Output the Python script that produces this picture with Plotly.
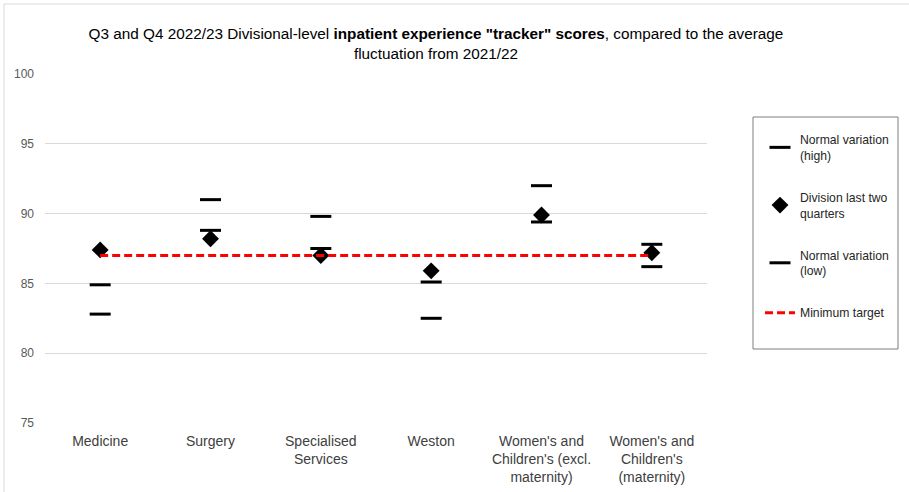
import plotly.graph_objects as go

categories = ["Medicine", "Surgery", "Specialised<br>Services", "Weston",
              "Women's and<br>Children's (excl.<br>maternity)",
              "Women's and<br>Children's<br>(maternity)"]
normal_high = [84.9, 91.0, 89.8, 85.1, 92.0, 87.8]
division_last_two = [87.4, 88.2, 87.0, 85.9, 89.9, 87.2]
normal_low = [82.8, 88.8, 87.5, 82.5, 89.4, 86.2]
minimum_target = [87, 87, 87, 87, 87, 87]

FONT = "Liberation Sans"
W, H = 909, 492
L, R, T, B = 45, 707, 74, 423
PW, PH = R - L, B - T

def px(xp):
    return (xp - L) / PW

def py(yp):
    return (B - yp) / PH

fig = go.Figure()
fig.add_trace(go.Scatter(
    x=categories, y=normal_high, mode="markers", name="Normal variation<br>(high)",
    marker=dict(symbol="line-ew", size=15, color="black", line=dict(width=3, color="black")),
    legendgroup="a"))
fig.add_trace(go.Scatter(
    x=categories, y=division_last_two, mode="markers", name="Division last two<br>quarters",
    marker=dict(symbol="diamond", size=13, color="black"),
    legendgroup="b"))
fig.add_trace(go.Scatter(
    x=categories, y=normal_low, mode="markers", name="Normal variation<br>(low)",
    marker=dict(symbol="line-ew", size=15, color="black", line=dict(width=3, color="black")),
    legendgroup="c"))
fig.add_trace(go.Scatter(
    x=categories, y=minimum_target, mode="lines", name="Minimum target",
    line=dict(color="#ff0000", width=3, dash="8px,4px"),
    legendgroup="d"))

shapes = [
    dict(type="rect", xref="paper", yref="paper",
         x0=px(4), x1=px(930), y0=py(510), y1=py(4),
         line=dict(color="#d9d9d9", width=1), fillcolor="rgba(0,0,0,0)", layer="below"),
    dict(type="rect", xref="paper", yref="paper",
         x0=px(753), x1=px(898), y0=py(349), y1=py(117),
         line=dict(color="#7f7f7f", width=1), fillcolor="rgba(0,0,0,0)"),
]

fig.update_layout(
    width=W, height=H,
    margin=dict(l=L, r=W - R, t=T, b=H - B, pad=0, autoexpand=False),
    paper_bgcolor="white", plot_bgcolor="white",
    font=dict(family=FONT, size=13, color="#404040"),
    title=dict(
        text='Q3 and Q4 2022/23 Divisional-level <b>inpatient experience "tracker" scores</b>, compared to the average<br>fluctuation from 2021/22',
        x=436 / W, xanchor="center", xref="container",
        y=1 - 39 / H, yanchor="middle", yref="container",
        font=dict(family=FONT, size=15.3, color="black")),
    xaxis=dict(showgrid=False, showline=False, zeroline=False, ticks="",
               tickfont=dict(family=FONT, size=14, color="#404040"),
               ticklabelstandoff=8, automargin=False,
               range=[-0.5, 5.5]),
    yaxis=dict(range=[75, 100], dtick=5, showgrid=True, gridcolor="#d9d9d9", gridwidth=1,
               zeroline=False, showline=False, ticks="", automargin=False,
               tickfont=dict(family=FONT, size=12, color="#595959"),
               ticklabelstandoff=10),
    legend=dict(x=px(760), xanchor="left", y=py(125), yanchor="top",
                bgcolor="rgba(0,0,0,0)", borderwidth=0,
                traceorder="grouped", tracegroupgap=23,
                font=dict(family=FONT, size=12.2, color="#262626")),
    shapes=shapes,
    showlegend=True,
)

fig.write_html("out.html")
